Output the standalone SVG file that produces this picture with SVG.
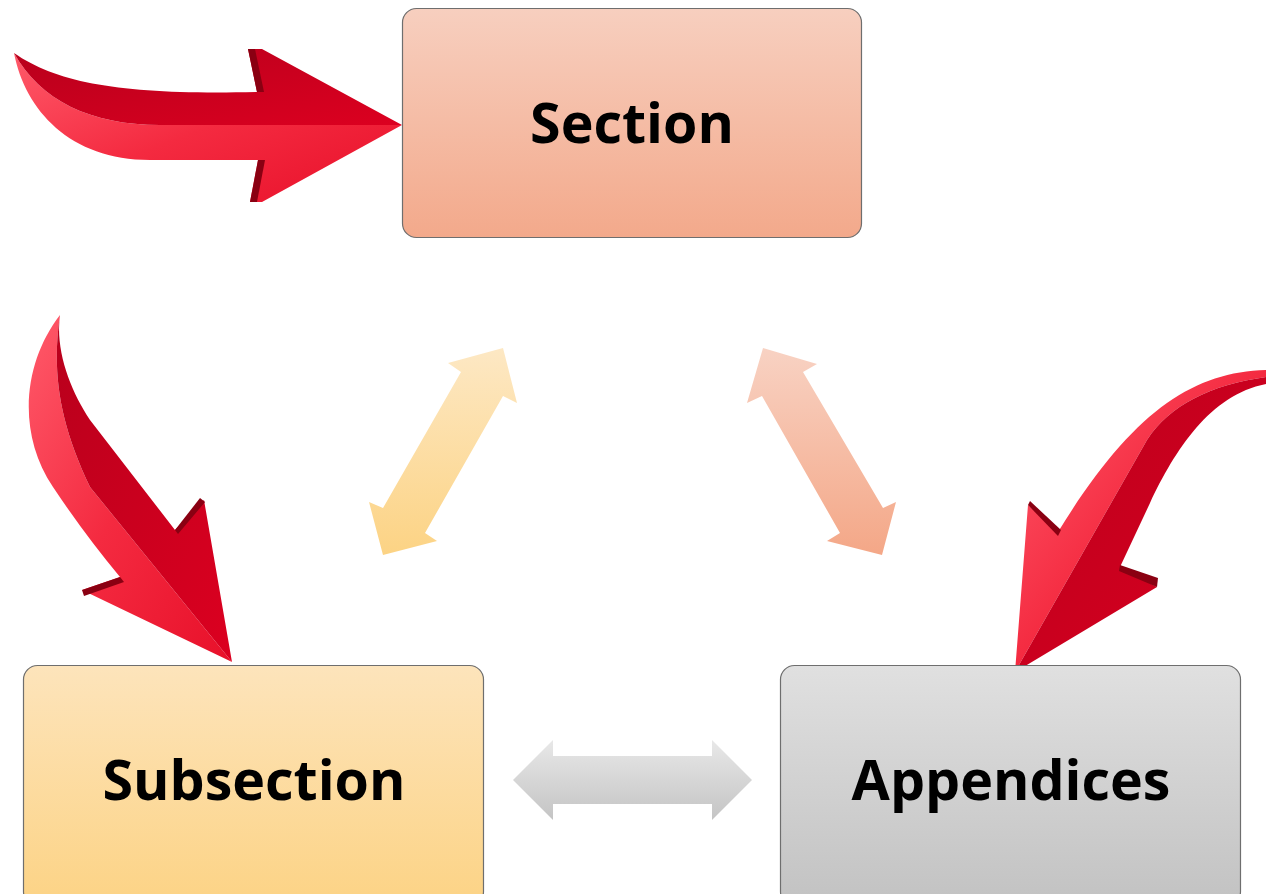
<svg xmlns="http://www.w3.org/2000/svg" width="1266" height="894" viewBox="0 0 1266 894">
<defs>
<linearGradient id="gSec" x1="0" y1="0" x2="0" y2="1"><stop offset="0" stop-color="#f7cfbf"/><stop offset="1" stop-color="#f3a98b"/></linearGradient>
<linearGradient id="gSub" x1="0" y1="0" x2="0" y2="1"><stop offset="0" stop-color="#fde4bb"/><stop offset="1" stop-color="#fcd385"/></linearGradient>
<linearGradient id="gApp" x1="0" y1="0" x2="0" y2="1"><stop offset="0" stop-color="#e0e0e0"/><stop offset="1" stop-color="#c2c2c2"/></linearGradient>
<linearGradient id="gY" gradientUnits="userSpaceOnUse" x1="0" y1="348" x2="0" y2="555"><stop offset="0" stop-color="#fde8c4"/><stop offset="1" stop-color="#fcd384"/></linearGradient>
<linearGradient id="gS" gradientUnits="userSpaceOnUse" x1="0" y1="348" x2="0" y2="555"><stop offset="0" stop-color="#f8d2c3"/><stop offset="1" stop-color="#f4a787"/></linearGradient>
<linearGradient id="gG" gradientUnits="userSpaceOnUse" x1="0" y1="740" x2="0" y2="820"><stop offset="0" stop-color="#e8e8e8"/><stop offset="1" stop-color="#c4c4c4"/></linearGradient>
<linearGradient id="rDark" x1="0" y1="0" x2="1" y2="1"><stop offset="0" stop-color="#b8001c"/><stop offset="1" stop-color="#dc0020"/></linearGradient>
<linearGradient id="rLight" x1="0" y1="0" x2="1" y2="1"><stop offset="0" stop-color="#ff5a6a"/><stop offset="0.5" stop-color="#f42a40"/><stop offset="1" stop-color="#e8102a"/></linearGradient>
</defs>
<style>
.box{stroke:#6e6e6e;stroke-width:1.2}
.lbl{font-family:"Open Sans","DejaVu Sans",sans-serif;font-weight:700;font-size:55.5px;fill:#000;text-anchor:middle}
.bev{fill:#8a0012}
</style>

<g id="connectors">
  <g id="arrow-top">
    <path fill="url(#rLight)" d="M14,53 C25,110 70,160 150,160 L258,160 L250,202 L262,202 L402,125 L160,125 C90,125 40,100 14,53 Z"/>
    <path fill="url(#rDark)" d="M14,53 C60,85 130,95 257,92 L248,49 L262,49 L402,125 L160,125 C90,125 40,100 14,53 Z"/>
    <path class="bev" d="M248,49 L255,49 L264,92 L257,92 Z"/>
    <path class="bev" d="M250,202 L257,202 L265,160 L258,160 Z"/>
  </g>
  <g id="arrow-left">
    <path fill="url(#rLight)" d="M60,315 C25,360 15,430 53,487 Q85,535 120,577 L82,590 L232,662 L90,487 C58,420 52,370 60,315 Z"/>
    <path fill="url(#rDark)" d="M60,315 C52,370 58,420 90,487 L232,662 L204,500 L175,530 L90,420 C70,390 55,350 60,315 Z"/>
    <path class="bev" d="M82,590 L84,596 L124,582 L120,577 Z"/>
    <path class="bev" d="M200,498 L205,502 L178,534 L175,530 Z"/>
  </g>
  <g id="arrow-right">
    <path fill="url(#rLight)" d="M1266,370 C1190,372 1130,415 1058,532 L1028,505 L1015,672 L1147,440 C1170,405 1210,385 1266,377 Z"/>
    <path fill="url(#rDark)" d="M1266,377 C1210,385 1170,405 1147,440 L1015,672 L1157,587 L1120,567 L1150,503 C1175,450 1210,395 1266,384 Z"/>
    <path class="bev" d="M1028,505 L1030,501 L1061,530 L1058,536 Z"/>
    <path class="bev" d="M1120,565 L1158,578 L1157,587 L1119,571 Z"/>
  </g>
  <path id="dbl-yellow" fill="url(#gY)" d="M503,348 L517,403 L503,396 L425,533 L437,541 L383,555 L369,502 L383,508 L461,372 L448,363 Z"/>
  <path id="dbl-salmon" fill="url(#gS)" d="M763,348 L817,364 L803,372 L883,508 L896,502 L882,555 L827,541 L840,533 L762,396 L747,403 Z"/>
  <path id="dbl-gray" fill="url(#gG)" d="M513,780 L553,740 L553,756 L712,756 L712,740 L752,780 L712,820 L712,804 L553,804 L553,820 Z"/>
</g>

<g id="node-section">
  <rect class="box" x="402.5" y="8.5" width="459" height="229" rx="14" fill="url(#gSec)"/>
  <text class="lbl" x="632" y="143">Section</text>
</g>
<g id="node-subsection">
  <rect class="box" x="23.5" y="665.5" width="460" height="240" rx="14" fill="url(#gSub)"/>
  <text class="lbl" x="254" y="800">Subsection</text>
</g>
<g id="node-appendices">
  <rect class="box" x="780.5" y="665.5" width="460" height="240" rx="14" fill="url(#gApp)"/>
  <text class="lbl" x="1011" y="800">Appendices</text>
</g>
</svg>
